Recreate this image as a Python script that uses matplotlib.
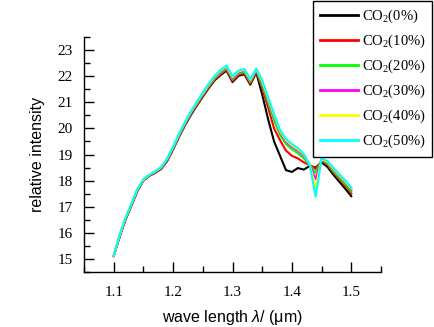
import matplotlib
matplotlib.use("Agg")
import matplotlib.pyplot as plt
from matplotlib.ticker import MultipleLocator

plt.rcParams['mathtext.fontset'] = 'custom'
plt.rcParams['mathtext.rm'] = 'Liberation Serif'
plt.rcParams['mathtext.it'] = 'Liberation Sans:italic'

wavelength = [1.10, 1.11, 1.12, 1.13, 1.14, 1.15, 1.16, 1.17, 1.18, 1.19,
              1.20, 1.21, 1.22, 1.23, 1.24, 1.25, 1.26, 1.27, 1.28, 1.29,
              1.30, 1.31, 1.32, 1.33, 1.34, 1.35, 1.36, 1.37, 1.38, 1.39,
              1.40, 1.41, 1.42, 1.43, 1.44, 1.45, 1.46, 1.47, 1.48, 1.49, 1.50]

co2_0 = [15.10, 15.85, 16.50, 17.05, 17.60, 18.00, 18.18, 18.30, 18.45, 18.75,
         19.20, 19.68, 20.12, 20.52, 20.88, 21.22, 21.55, 21.85, 22.05, 22.22,
         21.78, 22.02, 22.08, 21.68, 22.15, 21.30, 20.35, 19.50, 18.95, 18.40,
         18.33, 18.48, 18.42, 18.56, 18.50, 18.70, 18.52, 18.22, 17.95, 17.68, 17.40]
co2_10 = [15.10, 15.86, 16.52, 17.07, 17.62, 18.01, 18.19, 18.31, 18.47, 18.77,
          19.22, 19.70, 20.15, 20.55, 20.91, 21.25, 21.58, 21.88, 22.09, 22.26,
          21.82, 22.06, 22.12, 21.72, 22.19, 21.55, 20.80, 20.00, 19.55, 19.15,
          18.95, 18.85, 18.70, 18.60, 18.45, 18.75, 18.60, 18.30, 18.05, 17.80, 17.50]
co2_20 = [15.11, 15.88, 16.54, 17.09, 17.64, 18.02, 18.20, 18.33, 18.49, 18.80,
          19.25, 19.73, 20.18, 20.59, 20.95, 21.29, 21.62, 21.92, 22.13, 22.31,
          21.88, 22.11, 22.17, 21.78, 22.23, 21.65, 21.00, 20.30, 19.75, 19.40,
          19.20, 19.05, 18.85, 18.60, 18.30, 18.80, 18.65, 18.35, 18.10, 17.85, 17.58]
co2_30 = [15.11, 15.89, 16.55, 17.10, 17.65, 18.03, 18.21, 18.34, 18.50, 18.82,
          19.27, 19.76, 20.21, 20.62, 20.98, 21.33, 21.66, 21.97, 22.18, 22.36,
          21.93, 22.16, 22.22, 21.84, 22.27, 21.75, 21.10, 20.45, 19.85, 19.50,
          19.30, 19.15, 18.95, 18.62, 18.05, 18.82, 18.70, 18.42, 18.17, 17.93, 17.66]
co2_40 = [15.12, 15.91, 16.57, 17.12, 17.67, 18.04, 18.22, 18.35, 18.51, 18.84,
          19.29, 19.78, 20.23, 20.64, 21.00, 21.35, 21.69, 22.00, 22.22, 22.39,
          21.97, 22.19, 22.25, 21.87, 22.29, 21.80, 21.15, 20.50, 19.90, 19.55,
          19.35, 19.20, 19.00, 18.62, 17.75, 18.83, 18.72, 18.45, 18.20, 17.96, 17.70]
co2_50 = [15.12, 15.92, 16.58, 17.13, 17.68, 18.05, 18.22, 18.36, 18.52, 18.85,
          19.30, 19.80, 20.25, 20.66, 21.02, 21.37, 21.72, 22.03, 22.25, 22.42,
          22.00, 22.22, 22.28, 21.90, 22.30, 21.85, 21.20, 20.55, 19.95, 19.60,
          19.40, 19.25, 19.02, 18.60, 17.38, 18.85, 18.75, 18.48, 18.24, 18.00, 17.73]

series = [co2_0, co2_10, co2_20, co2_30, co2_40, co2_50]
labels = ['CO$_2$(0%)', 'CO$_2$(10%)', 'CO$_2$(20%)', 'CO$_2$(30%)', 'CO$_2$(40%)', 'CO$_2$(50%)']
colors = ['#000000', '#ff0000', '#00ff00', '#ff00ff', '#ffff00', '#00ffff']

fig = plt.figure(figsize=(4.35, 3.27), dpi=100)
ax = fig.add_axes([84/435, 1 - 271.7/327, 297/435, 234.4/327])

for ys, lab, c in zip(series, labels, colors):
    ax.plot(wavelength, ys, color=c, lw=1.5, label=lab)

ax.set_xlim(1.05, 1.55)
ax.set_ylim(14.5, 23.5)
ax.xaxis.set_major_locator(MultipleLocator(0.1))
ax.xaxis.set_minor_locator(MultipleLocator(0.05))
ax.yaxis.set_major_locator(MultipleLocator(1))
ax.yaxis.set_minor_locator(MultipleLocator(0.5))
ax.set_xticks([1.1, 1.2, 1.3, 1.4, 1.5])
ax.set_yticks(list(range(15, 24)))

for s in ['top', 'right']:
    ax.spines[s].set_visible(False)
for s in ['left', 'bottom']:
    ax.spines[s].set_linewidth(1.0)

ax.tick_params(which='major', direction='in', length=7.2, width=1.0, labelsize=11)
ax.tick_params(which='minor', direction='in', length=4.3, width=1.0)
ax.tick_params(axis='x', which='major', pad=10)
ax.tick_params(axis='y', which='major', pad=8)
for lbl in ax.get_xticklabels() + ax.get_yticklabels():
    lbl.set_fontfamily('Liberation Serif')

ax.set_xlabel(r'wave length $\mathit{\lambda}$/ (μm)', fontfamily='Liberation Sans',
              fontsize=11.5, labelpad=7)
ax.set_ylabel('relative intensity', fontfamily='Liberation Sans', fontsize=11.5,
              labelpad=9)

leg = fig.legend(loc='upper left', bbox_to_anchor=(313/435, 1 - 1/327),
                 bbox_transform=fig.transFigure, frameon=True, fancybox=False,
                 framealpha=1, edgecolor='black', handlelength=2.66,
                 handletextpad=0.25, labelspacing=0.53, borderpad=0.45,
                 borderaxespad=0.0,
                 prop={'family': 'Liberation Serif', 'size': 10.5})
leg.get_frame().set_linewidth(1.0)
for line in leg.get_lines():
    line.set_linewidth(2.0)

fig.savefig('out.png', dpi=100)
